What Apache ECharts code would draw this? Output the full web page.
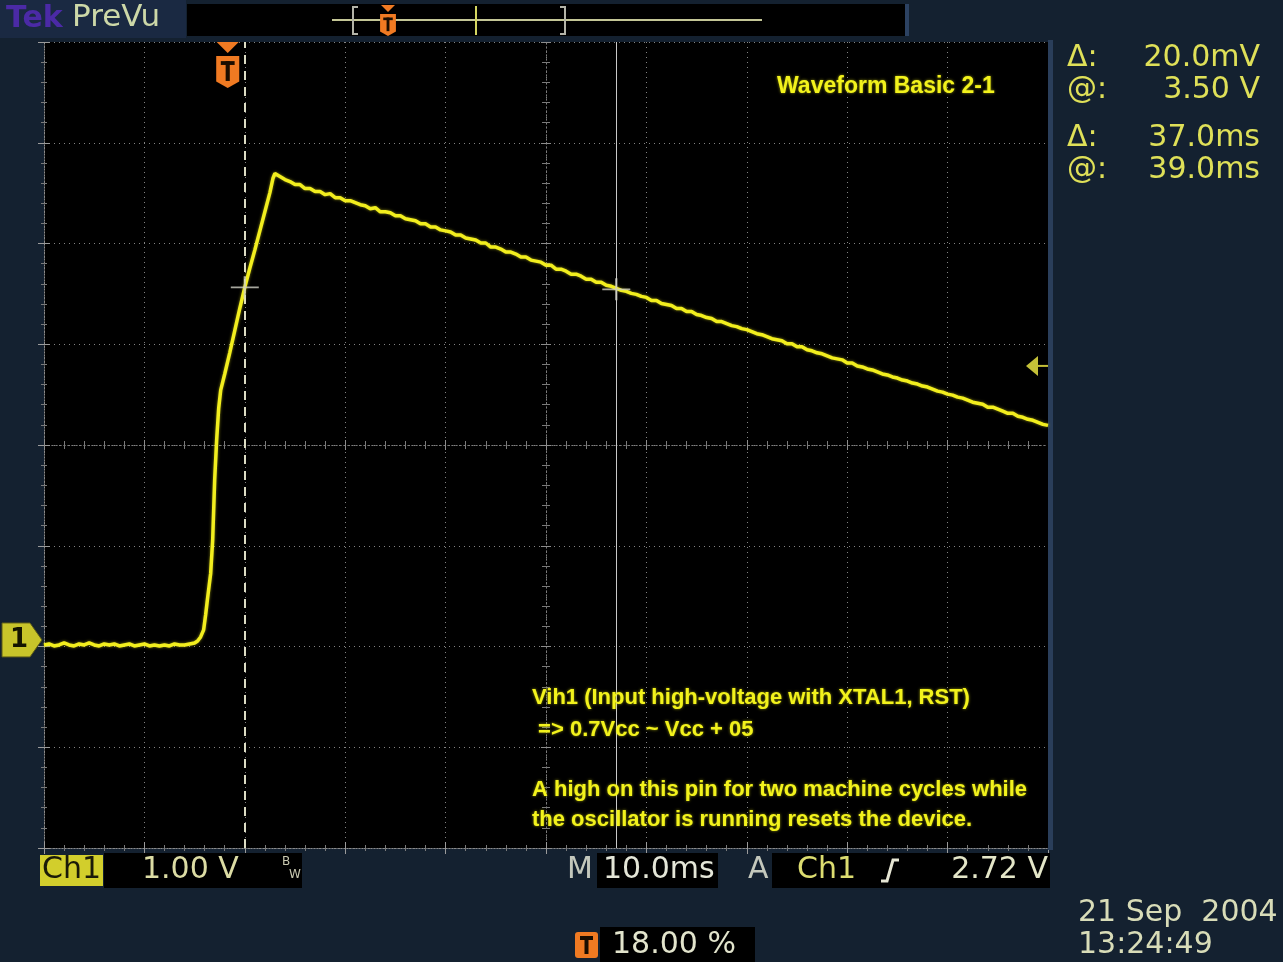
<!DOCTYPE html>
<html>
<head>
<meta charset="utf-8">
<script src="https://cdn.jsdelivr.net/npm/echarts/dist/echarts.min.js"></script>
<style>
  html, body { margin: 0; padding: 0; background: #142130; }
  #chart { width: 1283px; height: 962px; }
</style>
</head>
<body>
<div id="chart"></div>
<script>
// ---- Acquisition settings ----
const msPerDiv = 10;            // M 10.0ms
const voltsPerDiv = 1.0;        // Ch1 1.00 V
const recordMs = 100;           // 10 horizontal divisions
const triggerPercent = 18.0;    // trigger position in record
const triggerLevelV = 2.72;     // A Ch1 rising edge 2.72 V
const groundDivFromBottom = 2.065; // Ch1 ground marker position (divisions above bottom)

// ---- Cursor readouts ----
const cursorDeltaMs = 37.0;
const cursorAtMs = 39.0;        // second time cursor, relative to trigger
const cursorAtV = 3.50;
const cursorDeltaMv = 20.0;

// ---- Ch1 trace: [time in ms from record start, volts] ----
const ch1Trace = [
  [0.0,-0.05],[0.5,-0.04],[1.0,-0.06],[1.5,-0.05],[2.0,-0.03],[2.5,-0.05],[3.0,-0.06],[3.5,-0.04],
  [4.0,-0.05],[4.5,-0.03],[5.0,-0.05],[5.5,-0.06],[6.0,-0.04],[6.5,-0.05],[7.0,-0.04],[7.5,-0.06],
  [8.0,-0.05],[8.5,-0.04],[9.0,-0.06],[9.5,-0.05],[10.0,-0.04],[10.5,-0.06],[11.0,-0.05],[11.5,-0.06],
  [12.0,-0.05],[12.5,-0.06],[13.0,-0.04],[13.5,-0.05],[14.0,-0.05],[14.5,-0.04],[15.0,-0.03],[15.3,-0.01],
  [15.6,0.03],[15.9,0.10],[16.1,0.25],[16.3,0.42],[16.6,0.66],[16.8,0.99],[17.0,1.59],[17.2,1.99],
  [17.4,2.30],[17.6,2.48],[18.0,2.64],[18.5,2.85],[19.0,3.07],[19.5,3.29],[20.0,3.50],
  [20.5,3.69],[21.0,3.87],[21.5,4.06],[22.0,4.25],[22.5,4.44],[22.8,4.58],[23.0,4.63],[23.5,4.60],
  [24.0,4.57],[24.5,4.55],[25.0,4.52],[25.5,4.52],[26.0,4.48],[26.5,4.48],[27.0,4.45],[27.5,4.45],
  [28.0,4.42],[28.5,4.43],[29.0,4.39],[29.5,4.39],[30.0,4.36],[30.5,4.36],[31.0,4.34],[31.5,4.32],
  [32.0,4.31],[32.5,4.28],[33.0,4.29],[33.5,4.25],[34.0,4.25],[34.5,4.24],[35.0,4.21],[35.5,4.21],
  [36.0,4.18],[36.5,4.17],[37.0,4.16],[37.5,4.13],[38.0,4.13],[38.5,4.10],[39.0,4.10],[39.5,4.07],
  [40.0,4.06],[40.5,4.05],[41.0,4.02],[41.5,4.02],[42.0,3.99],[42.5,3.98],[43.0,3.97],[43.5,3.94],
  [44.0,3.94],[44.5,3.90],[45.0,3.90],[45.5,3.88],[46.0,3.85],[46.5,3.85],[47.0,3.83],[47.5,3.80],
  [48.0,3.80],[48.5,3.77],[49.0,3.76],[49.5,3.75],[50.0,3.72],[50.5,3.72],[51.0,3.68],[51.5,3.68],
  [52.0,3.66],[52.5,3.63],[53.0,3.63],[53.5,3.61],[54.0,3.58],[54.5,3.58],[55.0,3.55],[55.5,3.55],
  [56.0,3.52],[56.5,3.51],[57.0,3.49],[57.5,3.47],[58.0,3.46],[58.5,3.44],[59.0,3.43],[59.5,3.41],
  [60.0,3.40],[60.5,3.37],[61.0,3.37],[61.5,3.34],[62.0,3.33],[62.5,3.32],[63.0,3.29],[63.5,3.29],
  [64.0,3.26],[64.5,3.26],[65.0,3.23],[65.5,3.22],[66.0,3.20],[66.5,3.19],[67.0,3.16],[67.5,3.16],
  [68.0,3.14],[68.5,3.12],[69.0,3.11],[69.5,3.09],[70.0,3.08],[70.5,3.06],[71.0,3.04],[71.5,3.03],
  [72.0,3.01],[72.5,2.99],[73.0,2.98],[73.5,2.97],[74.0,2.94],[74.5,2.94],[75.0,2.91],[75.5,2.91],
  [76.0,2.88],[76.5,2.87],[77.0,2.85],[77.5,2.84],[78.0,2.82],[78.5,2.80],[79.0,2.79],[79.5,2.78],
  [80.0,2.75],[80.5,2.75],[81.0,2.72],[81.5,2.71],[82.0,2.69],[82.5,2.68],[83.0,2.66],[83.5,2.64],
  [84.0,2.63],[84.5,2.61],[85.0,2.60],[85.5,2.58],[86.0,2.57],[86.5,2.55],[87.0,2.54],[87.5,2.52],
  [88.0,2.51],[88.5,2.49],[89.0,2.47],[89.5,2.46],[90.0,2.44],[90.5,2.43],[91.0,2.41],[91.5,2.40],
  [92.0,2.38],[92.5,2.36],[93.0,2.35],[93.5,2.34],[94.0,2.31],[94.5,2.31],[95.0,2.29],[95.5,2.27],
  [96.0,2.25],[96.5,2.25],[97.0,2.22],[97.5,2.21],[98.0,2.19],[98.5,2.18],[99.0,2.16],[99.5,2.14],
  [100.0,2.13]
];

// ---- Text shown on screen ----
const titleNote = 'Waveform Basic 2-1';
const noteLines = [
  'Vih1 (Input high-voltage with XTAL1, RST)',
  ' => 0.7Vcc ~ Vcc + 05',
  'A high on this pin for two machine cycles while',
  'the oscillator is running resets the device.'
];
const dateText = '21 Sep  2004';
const timeText = '13:24:49';

// ---- Derived positions (from the readouts) ----
const triggerMs = recordMs * triggerPercent / 100;
const cursor2Ms = triggerMs + cursorAtMs;
const cursor1Ms = cursor2Ms - cursorDeltaMs;
const cursor1V = cursorAtV;
const cursor2V = cursorAtV - cursorDeltaMv / 1000;
const vMin = -groundDivFromBottom * voltsPerDiv;
const vMax = vMin + 8 * voltsPerDiv;

const G = { left: 44, top: 42, width: 1004, height: 806 };
const FONT = '"DejaVu Sans", sans-serif';
const NOTE_FAMILY = '"Liberation Sans", Arial, sans-serif';

const edgeLine = { show: true, lineStyle: { color: '#8a8a8a', width: 1, type: [1, 2] } };
const gridDots = { show: true, lineStyle: { color: 'rgba(175,175,175,0.75)', width: 1, type: [1, 4] } };
function gratAxis(extra) {
  return Object.assign({
    type: 'value', min: 0, max: 100, interval: msPerDiv,
    axisLine: edgeLine,
    axisTick: { show: true, inside: true, length: 6, lineStyle: { color: '#9a9a9a' } },
    minorTick: { show: true, splitNumber: 5, length: 3, lineStyle: { color: '#7a7a7a' } },
    axisLabel: { show: false },
    splitLine: { show: false }
  }, extra);
}
function gratYAxis(extra) {
  return Object.assign({
    type: 'value', min: 0, max: 8, interval: 1,
    axisLine: edgeLine,
    axisTick: { show: true, inside: true, length: 6, lineStyle: { color: '#9a9a9a' } },
    minorTick: { show: true, splitNumber: 5, length: 3, lineStyle: { color: '#7a7a7a' } },
    axisLabel: { show: false },
    splitLine: { show: false }
  }, extra);
}
const centerTick = { show: true, inside: false, length: 5, lineStyle: { color: '#8c8c8c' } };
const centerMinor = { show: true, splitNumber: 5, length: 4, lineStyle: { color: '#7a7a7a' } };
const centerLine = { show: true, lineStyle: { color: '#7a7a7a', width: 1, type: [1, 3] } };

const chart = echarts.init(document.getElementById('chart'), null, { renderer: 'canvas' });

const option = {
  backgroundColor: '#142130',
  animation: false,
  grid: { left: G.left, top: G.top, width: G.width, height: G.height,
          show: true, backgroundColor: '#000000', borderWidth: 0 },
  xAxis: [
    gratAxis({ position: 'bottom', splitLine: gridDots }),
    gratAxis({ position: 'top' }),
    gratAxis({ position: 'bottom', offset: -G.height / 2, axisLine: centerLine, axisTick: centerTick, minorTick: centerMinor }),
    gratAxis({ position: 'top', offset: -G.height / 2, axisLine: centerLine, axisTick: centerTick, minorTick: centerMinor })
  ],
  yAxis: [
    gratYAxis({ position: 'left', splitLine: gridDots }),
    gratYAxis({ position: 'right' }),
    gratYAxis({ position: 'left', offset: -G.width / 2, axisLine: centerLine, axisTick: centerTick, minorTick: centerMinor }),
    gratYAxis({ position: 'right', offset: -G.width / 2, axisLine: centerLine, axisTick: centerTick, minorTick: centerMinor }),
    { type: 'value', min: vMin, max: vMax, show: false, splitLine: { show: false } }
  ],
  series: [
    {
      name: 'Ch1',
      type: 'line',
      xAxisIndex: 0, yAxisIndex: 4,
      data: ch1Trace,
      showSymbol: false,
      smooth: false,
      lineStyle: { color: '#f2ee1e', width: 3.5, shadowColor: 'rgba(240,236,30,0.55)', shadowBlur: 3 },
      z: 5,
      markLine: {
        silent: true,
        symbol: ['none', 'none'],
        label: { show: false },
        data: [
          { xAxis: cursor1Ms, lineStyle: { color: '#dcdcc4', width: 2, type: [9, 7] } },
          { xAxis: cursor2Ms, lineStyle: { color: '#c8c8c8', width: 1, type: 'solid' } }
        ]
      }
    },
    {
      name: 'cursors',
      type: 'scatter',
      xAxisIndex: 0, yAxisIndex: 4,
      data: [[cursor1Ms, cursor1V], [cursor2Ms, cursor2V]],
      symbol: 'path://M0,4.6H10V5.4H0Z M4.6,0H5.4V10H4.6Z',
      symbolSize: [28, 22],
      itemStyle: { color: '#d0d0c4' },
      silent: true,
      z: 6
    }
  ]
};
chart.setOption(option);

// ---- Screen decorations positioned from the axis scales ----
const px = v => chart.convertToPixel({ xAxisIndex: 0 }, v);
const py = v => chart.convertToPixel({ yAxisIndex: 4 }, v);

function tIcon(cx, top, h, withChevron) {
  const w = h * 0.72;
  const els = [];
  if (withChevron) {
    els.push({ type: 'polygon', shape: { points: [[cx - 11, top - 14], [cx + 11, top - 14], [cx, top - 3]] },
               style: { fill: '#f07a22' }, z: 20 });
  }
  els.push({ type: 'polygon',
             shape: { points: [[cx - w / 2, top], [cx + w / 2, top], [cx + w / 2, top + h * 0.8], [cx, top + h], [cx - w / 2, top + h * 0.8]] },
             style: { fill: '#f07a22' }, z: 20 });
  els.push({ type: 'rect', shape: { x: cx - w * 0.3, y: top + h * 0.16, width: w * 0.6, height: h * 0.12 },
             style: { fill: '#1a0d00' }, z: 21 });
  els.push({ type: 'rect', shape: { x: cx - w * 0.09, y: top + h * 0.16, width: w * 0.18, height: h * 0.62 },
             style: { fill: '#1a0d00' }, z: 21 });
  return els;
}

function txt(text, x, y, size, fill, opts) {
  const o = opts || {};
  return {
    type: 'text', z: 30,
    x: x, y: y, scaleX: o.scaleX || 1,
    style: {
      text: text, x: 0, y: 0,
      font: (o.weight || 'normal') + ' ' + size + 'px ' + (o.family || FONT),
      fill: fill,
      align: o.align || 'left', textAlign: o.align || 'left',
      verticalAlign: 'middle', textVerticalAlign: 'middle',
      textShadowColor: o.glow || 'transparent', textShadowBlur: o.glow ? 3 : 0
    }
  };
}

const trigX = px(triggerMs);
const groundY = py(0);
const trigLevelY = py(triggerLevelV);
const right = G.left + G.width;

const graphics = [];

// Top status strip
graphics.push({ type: 'rect', shape: { x: 0, y: 0, width: 186, height: 38 }, style: { fill: '#1a2942' }, z: 1 });
graphics.push(txt('Tek', 6, 19, 30, '#4b2aa6', { weight: 'bold' }));
graphics.push(txt('PreVu', 72, 18, 31, '#cdd8a8'));
graphics.push({ type: 'rect', shape: { x: 187, y: 4, width: 718, height: 32 }, style: { fill: '#000000' }, z: 1 });
graphics.push({ type: 'rect', shape: { x: 905, y: 4, width: 4, height: 32 }, style: { fill: '#2c4262' }, z: 1 });
// record view inside the strip
graphics.push({ type: 'line', shape: { x1: 332, y1: 20, x2: 762, y2: 20 }, style: { stroke: '#c4c696', lineWidth: 2 }, z: 2 });
graphics.push({ type: 'polyline', shape: { points: [[358, 7], [353, 7], [353, 34], [358, 34]] }, style: { stroke: '#b4b4a8', lineWidth: 2, fill: null }, z: 2 });
graphics.push({ type: 'polyline', shape: { points: [[560, 7], [565, 7], [565, 34], [560, 34]] }, style: { stroke: '#b4b4a8', lineWidth: 2, fill: null }, z: 2 });
graphics.push({ type: 'line', shape: { x1: 476, y1: 6, x2: 476, y2: 35 }, style: { stroke: '#d4d660', lineWidth: 2 }, z: 2 });
tIcon(388, 14, 22, false).forEach(e => graphics.push(e));
graphics.push({ type: 'polygon', shape: { points: [[381, 5], [395, 5], [388, 12]] }, style: { fill: '#f07a22' }, z: 20 });

// Trigger position marker over the graticule
tIcon(trigX + 3, 56, 32, true).forEach(e => graphics.push(e));

// Right edge of graticule
graphics.push({ type: 'rect', shape: { x: right, y: G.top - 2, width: 5, height: G.height + 4 }, style: { fill: '#2a3e5a' }, z: 3 });

// Ch1 ground marker
graphics.push({ type: 'polygon',
  shape: { points: [[2, groundY - 17], [30, groundY - 17], [42, groundY], [30, groundY + 17], [2, groundY + 17]] },
  style: { fill: '#c8c42a', stroke: '#5c5a18', lineWidth: 1 }, z: 20 });
graphics.push(txt('1', 10, groundY, 26, '#141400', { weight: 'bold' }));

// Trigger level marker
graphics.push({ type: 'polygon',
  shape: { points: [[1026, trigLevelY], [1038, trigLevelY - 10], [1038, trigLevelY + 10]] },
  style: { fill: '#c4c038' }, z: 20 });
graphics.push({ type: 'line', shape: { x1: 1036, y1: trigLevelY, x2: right, y2: trigLevelY }, style: { stroke: '#c4c038', lineWidth: 2 }, z: 20 });

// Notes on the graticule
graphics.push(txt(titleNote, 777, 87, 23, '#f2f21c', { family: NOTE_FAMILY, weight: 'bold', glow: 'rgba(240,240,20,0.6)' }));
const noteY = [698, 730, 790, 820];
noteLines.forEach((line, i) => {
  graphics.push(txt(line, 532, noteY[i], 22, '#f2f21c', { family: NOTE_FAMILY, weight: 'bold', glow: 'rgba(240,240,20,0.6)' }));
});

// Cursor readouts
const readColor = '#dfe058';
const readRows = [
  ['\u0394:', cursorDeltaMv.toFixed(1) + 'mV', 58],
  ['@:', cursorAtV.toFixed(2) + ' V', 90],
  ['\u0394:', cursorDeltaMs.toFixed(1) + 'ms', 138],
  ['@:', cursorAtMs.toFixed(1) + 'ms', 170]
];
readRows.forEach(r => {
  graphics.push(txt(r[0], 1067, r[2], 30, readColor));
  graphics.push(txt(r[1], 1260, r[2], 30, readColor, { align: 'right' }));
});

// Bottom status: channel scale
graphics.push({ type: 'rect', shape: { x: 40, y: 855, width: 63, height: 31 }, style: { fill: '#d2ce2c' }, z: 10 });
graphics.push(txt('Ch1', 42, 870, 30, '#1a1a08'));
graphics.push({ type: 'rect', shape: { x: 104, y: 853, width: 198, height: 35 }, style: { fill: '#000000' }, z: 10 });
graphics.push(txt(voltsPerDiv.toFixed(2) + ' V', 142, 870, 30, '#dcdca4'));
graphics.push(txt('B', 282, 862, 12, '#c8c8b0'));
graphics.push(txt('W', 289, 875, 12, '#c8c8b0'));

// Bottom status: timebase and trigger
graphics.push(txt('M', 567, 870, 30, '#c4c8bc'));
graphics.push({ type: 'rect', shape: { x: 597, y: 853, width: 121, height: 35 }, style: { fill: '#000000' }, z: 10 });
graphics.push(txt(msPerDiv.toFixed(1) + 'ms', 603, 870, 30, '#e4e6d8'));
graphics.push(txt('A', 748, 870, 30, '#c4c8bc'));
graphics.push({ type: 'rect', shape: { x: 772, y: 853, width: 278, height: 35 }, style: { fill: '#000000' }, z: 10 });
graphics.push(txt('Ch1', 797, 870, 30, '#dcdc70'));
graphics.push({ type: 'polyline', shape: { points: [[881, 881], [887, 881], [893, 860], [899, 860]] },
                style: { stroke: '#e6e6d4', lineWidth: 3, fill: null }, z: 30 });
graphics.push(txt(triggerLevelV.toFixed(2) + ' V', 1048, 870, 30, '#e4e6c8', { align: 'right' }));

// Trigger position readout
graphics.push({ type: 'rect', shape: { x: 575, y: 932, width: 23, height: 26, r: 3 }, style: { fill: '#f07a22' }, z: 10 });
graphics.push({ type: 'rect', shape: { x: 580, y: 936, width: 13, height: 4 }, style: { fill: '#1a0d00' }, z: 11 });
graphics.push({ type: 'rect', shape: { x: 584.5, y: 936, width: 4, height: 18 }, style: { fill: '#1a0d00' }, z: 11 });
graphics.push({ type: 'rect', shape: { x: 600, y: 927, width: 155, height: 35 }, style: { fill: '#000000' }, z: 10 });
graphics.push(txt(triggerPercent.toFixed(2) + ' %', 612, 945, 30, '#e2e4cc'));

// Date and time
graphics.push(txt(dateText, 1078, 913, 30, '#d8dcb8'));
graphics.push(txt(timeText, 1078, 945, 30, '#d8dcb8'));

chart.setOption({ graphic: { elements: graphics } });
</script>
</body>
</html>
